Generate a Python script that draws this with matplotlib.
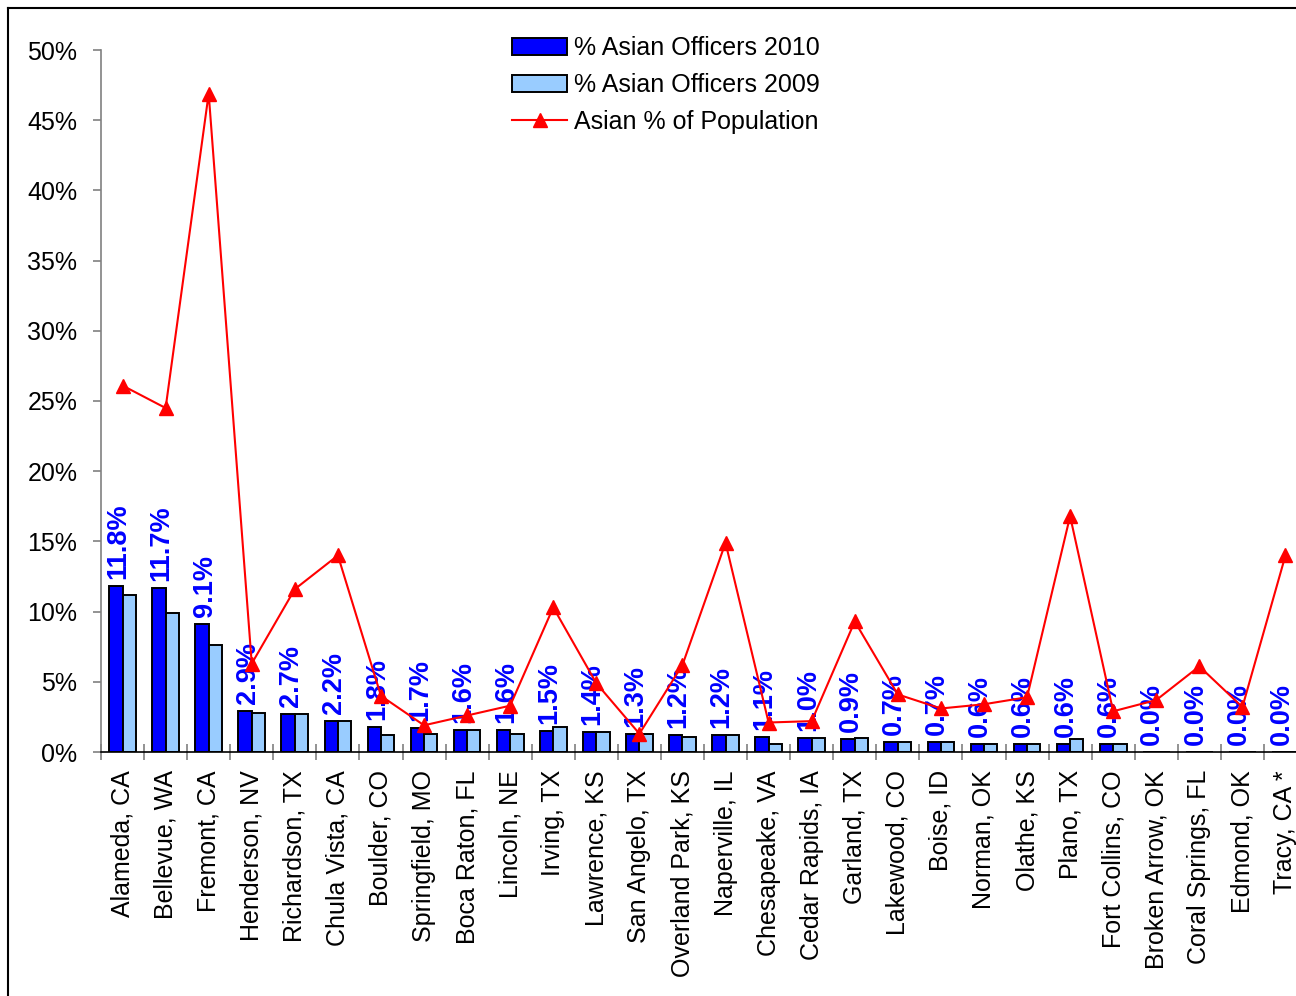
import matplotlib
matplotlib.use('Agg')
from matplotlib import pyplot as plt
from matplotlib.lines import Line2D
import numpy as np

plt.rcParams['font.family'] = ['Liberation Sans', 'DejaVu Sans']

cities = ['Alameda, CA', 'Bellevue, WA', 'Fremont, CA', 'Henderson, NV', 'Richardson, TX',
          'Chula Vista, CA', 'Boulder, CO', 'Springfield, MO', 'Boca Raton, FL', 'Lincoln, NE',
          'Irving, TX', 'Lawrence, KS', 'San Angelo, TX', 'Overland Park, KS', 'Naperville, IL',
          'Chesapeake, VA', 'Cedar Rapids, IA', 'Garland, TX', 'Lakewood, CO', 'Boise, ID',
          'Norman, OK', 'Olathe, KS', 'Plano, TX', 'Fort Collins, CO', 'Broken Arrow, OK',
          'Coral Springs, FL', 'Edmond, OK', 'Tracy, CA *']
officers_2010 = [11.8, 11.7, 9.1, 2.9, 2.7, 2.2, 1.8, 1.7, 1.6, 1.6, 1.5, 1.4, 1.3, 1.2,
                 1.2, 1.1, 1.0, 0.9, 0.7, 0.7, 0.6, 0.6, 0.6, 0.6, 0.0, 0.0, 0.0, 0.0]
officers_2009 = [11.2, 9.9, 7.6, 2.8, 2.7, 2.2, 1.2, 1.3, 1.6, 1.3, 1.8, 1.4, 1.3, 1.1,
                 1.2, 0.6, 1.0, 1.0, 0.7, 0.7, 0.6, 0.6, 0.9, 0.6, 0.0, 0.0, 0.0, 0.0]
population = [26.1, 24.5, 46.9, 6.3, 11.6, 14.0, 4.0, 1.9, 2.6, 3.3, 10.3, 4.9, 1.3, 6.2,
              14.9, 2.1, 2.2, 9.3, 4.1, 3.1, 3.4, 3.9, 16.8, 2.9, 3.7, 6.1, 3.2, 14.0]
y_ticks = [0, 5, 10, 15, 20, 25, 30, 35, 40, 45, 50]

W, H = 1296, 996
fig = plt.figure(figsize=(W / 100, H / 100), dpi=100)
ax = fig.add_axes([101 / W, 244 / H, 1206 / W, 702 / H])

x = np.arange(len(cities))
bw = 0.31
bars10 = ax.bar(x - bw / 2, officers_2010, bw, color='#0000ff', edgecolor='black',
                linewidth=1.4, label='% Asian Officers 2010', zorder=2)
bars09 = ax.bar(x + bw / 2, officers_2009, bw, color='#99ccff', edgecolor='black',
                linewidth=1.4, label='% Asian Officers 2009', zorder=2)
line, = ax.plot(x, population, color='red', lw=1.5, marker='^', markersize=10.5,
                label='Asian % of Population', zorder=4, clip_on=False)

for xi, v in zip(x, officers_2010):
    ax.annotate(f'{v:.1f}%', (xi - bw / 2, v), xytext=(2, 5), textcoords='offset points',
                rotation=90, ha='center', va='bottom', color='#0000ff',
                fontsize=19.5, fontweight='bold', zorder=3)

ax.set_xlim(-0.5, len(cities) - 0.5)
ax.set_ylim(0, 50)
ax.set_yticks(y_ticks)
ax.set_yticklabels([f'{t}%' for t in y_ticks], fontsize=18)
ax.set_xticks(x)
ax.set_xticklabels(cities, rotation=90, fontsize=18)
ax.set_xticks(np.arange(len(cities) + 1) - 0.5, minor=True)
ax.tick_params(axis='x', which='major', length=0, pad=13)
ax.tick_params(axis='x', which='minor', direction='inout', length=12, color='#808080', width=1.2)
ax.tick_params(axis='y', direction='out', length=6, color='#808080', width=1.2, pad=11)

for s in ['top', 'right']:
    ax.spines[s].set_visible(False)
ax.spines['left'].set_color('#808080')
ax.spines['left'].set_linewidth(1.2)
ax.spines['bottom'].set_color('black')
ax.spines['bottom'].set_linewidth(1.2)

fig.legend(handles=[bars10, bars09, line], loc='upper left',
           bbox_to_anchor=(512 / W, 1 - 36 / H), frameon=False, fontsize=18,
           handlelength=2.2, handleheight=0.65, handletextpad=0.3,
           labelspacing=0.52, borderpad=0, borderaxespad=0)

# outer chart border (runs off the right and bottom edges)
fig.add_artist(Line2D([8 / W, 8 / W], [0, 1 - 8 / H], color='black', lw=1.5))
fig.add_artist(Line2D([8 / W, 1], [1 - 8 / H, 1 - 8 / H], color='black', lw=1.5))

fig.savefig('out.png', dpi=100)
